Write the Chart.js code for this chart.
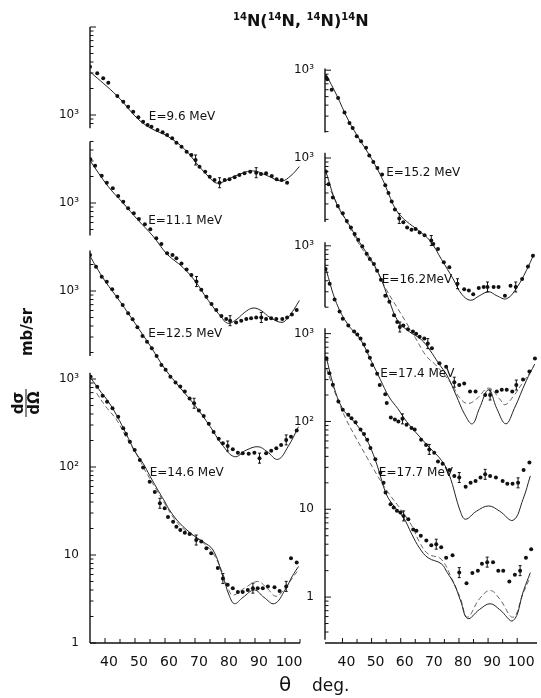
<!DOCTYPE html>
<html>
<head>
<meta charset="utf-8">
<script src="https://cdn.jsdelivr.net/npm/chart.js@4.4.1/dist/chart.umd.min.js"></script>
<style>
  body { margin: 0; background: #fff; width: 541px; height: 698px; position: relative; overflow: hidden;
         font-family: "DejaVu Sans", sans-serif; color: #111; }
  canvas { position: absolute; left: 0; top: 0; }
  .title { position: absolute; left: 233px; top: 11px; font-size: 16px; font-weight: bold; white-space: nowrap; }
  .title span { font-size: 10px; position: relative; top: -6px; }
  .rot { position: absolute; transform: translate(-50%, -50%) rotate(-90deg); white-space: nowrap;
         font-weight: bold; font-size: 15px; }
  .frac { display: flex; flex-direction: column; align-items: center; line-height: 13px; }
  .frac .bar { width: 28px; border-top: 1.5px solid #111; margin: 1px 0; }
  .xlab { position: absolute; top: 672px; white-space: nowrap; }
</style>
</head>
<body>
<canvas id="left" width="541" height="698"></canvas>
<canvas id="right" width="541" height="698"></canvas>
<div class="title"><span>14</span>N(<span>14</span>N, <span>14</span>N)<span>14</span>N</div>
<div class="rot" style="left:26px;top:403px;"><div class="frac"><div>dσ</div><div class="bar"></div><div>dΩ</div></div></div>
<div class="rot" style="left:27px;top:332px;">mb/sr</div>
<div class="xlab" style="left:279px;font-size:20px;">θ</div>
<div class="xlab" style="left:312px;top:675px;font-size:17px;">deg.</div>
<script>
// ---- measured angular distributions (angle in deg, cross-section in mb/sr) ----
// left panel
const e96Angle = [35.0,37.4,39.4,41.1,44.1,46.1,47.7,49.4,51.1,52.7,54.2,55.5,57.5,59.2,60.7,62.4,63.8,65.5,67.2,68.8,70.2,71.5,73.4,74.9,76.5,78.2,79.9,81.5,83.2,84.8,86.5,88.4,90.4,92.0,93.7,95.6,97.2,98.9,100.7];
const e96Sigma = [3540,2978,2612,2328,1644,1416,1242,1091,942,839,770,736,676,636,593,543,484,436,383,351,308,259,227,199,183,170,183,186,196,208,218,227,221,214,218,203,186,183,170];
const e96Err = [20, 25, 32];
const e96FitAngle = [35,44.1,51,55.5,61,66.5,71,74.5,77.5,83,89.2,94,98.8,102,104.8];
const e96Fit = [3100,1640,900,700,570,410,270,200,168,200,232,205,178,205,260];

const e111Angle = [35.1,36.7,38.9,40.6,42.6,44.4,46.1,47.7,49.6,51.3,53.3,55.1,57.1,58.8,60.7,62.5,63.8,65.5,67.2,68.8,70.5,72.1,73.8,75.5,77.1,78.8,80.4,81.7,83.7,85.4,87.1,88.7,90.4,92.1,93.7,95.4,97.1,99.1,100.7,102.3,103.9];
const e111Sigma = [3140,2654,2042,1702,1469,1202,1035,871,764,658,573,502,397,342,268,256,235,206,176,152,128,103,86,71,61,52,48,46,44,46,48,49,50,50,48,49,48,48,50,54,61];
const e111Err = [20, 27, 33];
const e111FitAngle = [35.1,41,46,51,56,60.7,66,70.4,73,76,78.5,80.9,84,86.5,89.3,92,95,99,101,103,104.8];
const e111Fit = [3000,1550,1000,640,420,262,185,125,92,66,52,43,48,57,64,60,50,44,50,62,78];

const e125Angle = [35.0,37.0,38.9,40.6,42.4,44.1,45.9,47.7,49.2,50.8,52.5,54.0,55.6,57.2,58.8,60.2,61.8,63.5,65.1,66.6,68.2,69.7,71.3,72.9,74.6,76.2,77.9,79.3,80.9,82.6,84.3,85.9,87.9,89.8,91.5,93.7,95.4,97.1,98.7,100.4,102.0,103.9];
const e125Sigma = [2566,1888,1455,1276,1045,861,693,558,477,387,308,265,223,182,144,127,106,91,82,72,60,53,44,38,31,25,21,18.6,17.3,15.9,14.5,14.3,14.1,14.5,12.6,14.3,15.3,16.3,17.8,20.3,22,26];
const e125Err = [21, 28, 34, 39];
const e125FitAngle = [35,37,40,45,50,55,60,65,70,75,79,83.2,87,91,94,97.6,101,104.5];
const e125Fit = [2500,1900,1300,760,430,240,130,80,50,29,18,13.1,15.5,17,15,12.2,17,28.7];

const e146Angle = [35.2,37.4,39.2,40.7,42.5,44.4,46.1,47.0,48.3,49.9,51.6,52.7,54.9,56.6,58.3,59.9,61.0,62.7,63.8,65.1,66.6,68.2,70.4,72.1,73.8,75.4,77.6,79.3,80.9,82.6,84.3,85.9,87.6,89.3,90.9,92.6,94.3,96.5,98.2,100.4,102.0,103.9];
const e146Sigma = [1062,818,646,552,464,373,275,237,194,156,120,99,68,52,38.7,34,27,23.9,21,19.2,17.9,17.3,14.8,14.2,11.9,10.5,7.1,5.4,4.6,4.2,3.8,3.8,4.0,4.2,4.2,4.2,4.4,4.3,3.9,4.4,9.2,8.2];
const e146Err = [14, 22, 27, 33, 39];
const e146FitAngle = [35.5,38,41,44,47,50,52.7,54.9,56.6,58.3,60,61.6,64.9,69.3,72.6,76,79.3,81.5,83.2,86,89.8,93,96.5,100,102.5,104.5];
const e146Fit = [1000,760,560,380,240,150,110,80,63,50,40,32,23,16.9,14.2,11.4,5.7,3.4,2.8,3.3,4.0,3.3,2.8,4.0,5.8,7.4];
const e146AltAngle = [37.2,40,43.9,47,51.6,53.3,57.2,60,63,66,70,73,76,79,81,82.6,86.5,90.9,94,97,100,102.5,104.5];
const e146Alt = [690,500,342,220,120,92,55,38,26,20,16,13.5,10.5,6.5,4.2,3.5,4.2,5.0,4.2,3.4,4.2,5.5,6.8];

// right panel
const e152Angle = [34.3,34.8,36.3,38.5,40.7,42.4,43.5,44.9,46.4,48.1,49.2,50.6,52.0,53.6,54.7,55.8,56.9,58.0,59.5,60.9,62.2,63.7,65.1,66.5,68.2,70.5,71.2,72.8,74.8,76.7,79.5,81.8,83.4,84.9,86.8,88.5,89.8,91.9,93.6,95.8,97.7,99.5,101.7,103.7,105.4];
const e152Sigma = [831,789,597,481,330,250,220,177,155,131,107,90,77,65,49,40,32,26,20.5,18.5,16.2,15.2,15.5,14.2,13.2,11.5,10.5,9.2,6.5,5.7,3.7,3.2,3.1,2.8,3.3,3.4,3.4,3.4,3.4,2.7,3.5,3.4,4.2,5.8,7.7];
const e152Err = [18, 25, 30, 36, 41];
const e152FitAngle = [34.3,38,42,46,50,54,56,58,60,62,66,70,74,78,81,84,87,90.2,93,96.4,100,103.1,105.8];
const e152Fit = [900,520,270,160,98,55,38,27,22,19,15,11.5,7,4.2,2.8,2.4,2.7,3.0,2.7,2.5,3.4,5.2,8.1];

const e162Angle = [34.3,35.2,36.7,38.4,40.1,41.5,42.9,44.2,45.4,46.8,48.3,49.4,50.8,51.9,53.2,54.7,56.1,57.7,58.8,59.7,60.9,62.5,64.2,65.3,66.5,68.1,69.3,70.7,73.3,75.6,78.4,80.1,81.8,83.8,85.7,89.0,90.7,93.0,94.7,96.4,98.3,99.7,102.0,104.2,106.1];
const e162Sigma = [700,501,354,284,235,192,162,136,117,99,81,71,62,52,41,27,23,16.2,13.6,11.9,12.4,11.2,10.6,10.0,9.2,8.8,7.7,6.8,4.6,4.2,2.8,2.6,2.7,2.2,2.2,2.0,2.0,2.2,2.3,2.3,2.2,2.6,3.0,3.7,5.2];
const e162Err = [19, 26, 30, 36, 41];
const e162FitAngle = [34.3,38,42,46,50,53,56,59,63,67,70,73,76,79,82,84.6,87,90.2,93,96.1,99,103.1,106];
const e162Fit = [700,300,180,108,68,44,24,14,10.5,8.6,6.5,4.6,3.3,2.0,1.2,0.94,1.4,2.3,1.4,0.94,1.4,2.9,4.5];
const e162AltAngle = [36,40,44,48,51,55,60,65,68.7,72,75,78,80,82.9,86,90.2,94,95.8,99,102,105.4];
const e162Alt = [420,230,130,80,58,32,17,9,5.6,4.4,3.4,2.5,1.9,1.6,1.8,2.4,1.8,1.55,2.0,2.8,4.0];

const e174Angle = [34.2,35.6,37.3,39.0,40.1,42.0,44.0,45.1,46.2,47.4,48.5,49.4,50.2,51.9,52.8,54.7,55.2,56.6,58.0,59.2,60.6,62.0,63.7,64.8,67.0,68.7,69.8,71.5,72.8,74.4,76.7,78.4,80.1,82.3,84.0,85.7,87.4,89.0,90.7,92.7,95.0,96.6,98.4,100.3,102.2,104.2];
const e174Sigma = [546,369,245,179,148,124,106,98,88,75,63,53,44,35,26,20.4,16.2,11.1,10.5,10.0,10.7,9.2,8.4,8.1,6.2,5.4,4.8,4.4,3.5,3.3,2.8,2.4,2.3,1.8,2.0,2.1,2.3,2.5,2.4,2.3,2.1,1.95,1.95,2.0,2.8,3.4];
const e174Err = [20, 26, 32, 37, 43];
const e174FitAngle = [34.2,38,42,46,50,53,56,59,62,66,70,74,76.6,80.6,82.3,86,90.2,94,98.6,102,104.5];
const e174Fit = [560,220,125,88,48,30,19,14,10,7,5,3.6,2.5,0.92,0.77,0.95,1.09,0.95,0.75,1.3,2.4];

const e177Angle = [34.5,35.5,36.7,38.6,40.1,42.0,43.1,44.5,46.2,47.4,48.5,49.6,51.3,53.0,54.1,54.8,56.5,57.6,58.7,59.9,61.0,62.6,64.3,65.4,66.9,68.8,70.5,72.2,73.9,75.6,77.8,80.1,82.6,84.6,86.5,87.9,89.7,91.7,93.5,95.2,97.3,99.2,101.0,103.0,104.8];
const e177Sigma = [525,353,261,169,136,119,109,98,81,72,62,50,37,26,20,15.5,11.4,10.5,9.6,9.2,8.4,7.7,5.9,5.7,5.0,4.4,3.9,4.0,3.7,2.8,3.0,1.9,1.44,1.88,2.0,2.4,2.5,2.5,2.0,2.0,1.5,1.8,2.0,2.8,3.5];
const e177Err = [20, 27, 31, 36, 42];
const e177FitAngle = [34.5,37,40,43,46,49,52,55,58,61,63.8,66.5,69.4,73.9,76,78.4,80.6,83,87,90.7,94,98.6,102.2,104.5];
const e177Fit = [530,250,140,108,82,56,31,15,10.5,8,5.2,3.6,2.8,2.4,1.9,1.4,0.9,0.57,0.72,0.84,0.72,0.54,1.19,1.9];
const e177AltAngle = [34.5,38,41,44,48.5,52.4,56,60,63.8,66.5,69.4,73.9,77.8,80.6,82.9,87,90.7,94,98.6,102,104.5];
const e177Alt = [400,190,110,71,38.5,23,15,10,6.5,4.2,3.1,2.7,1.55,0.95,0.59,0.95,1.19,0.95,0.59,1.1,1.7];

// each curve is lifted by a factor of ten above the one below it
const leftShift = [1000, 100, 10, 1];   // 9.6, 11.1, 12.5, 14.6 MeV
const rightShift = [1000, 100, 10, 1];  // 15.2, 16.2, 17.4, 17.7 MeV
const ERR = 1.14;                       // typical error bar, as a factor

const INK = '#111';
const FONT = '"DejaVu Sans", sans-serif';

function pts(xs, ys, k) { return xs.map((a, i) => ({ x: a, y: ys[i] * k })); }

function dots(xs, ys, k, err) {
  return { data: pts(xs, ys, k), errIdx: err, showLine: false, pointRadius: 2, pointBackgroundColor: INK,
           pointBorderWidth: 0 };
}
function fit(xs, ys, k, dashed) {
  return { data: pts(xs, ys, k), showLine: true, pointRadius: 0, borderColor: dashed ? '#555' : '#222',
           borderWidth: dashed ? 0.9 : 1, borderDash: dashed ? [5, 3] : [], tension: 0.4 };
}

// decade labels: every offset curve gets its own 10^3 mark
function yLabel(v) {
  const e = Math.log10(v);
  if (Math.abs(e - Math.round(e)) > 1e-6) return '';
  const n = Math.round(e);
  if (n === 0) return '1';
  if (n === 1) return '10';
  if (n === 2) return '10²';
  if (n >= 3 && n <= 6) return '10³';
  return '';
}

// axis pieces, inward ticks, error bars and energy tags
const frame = {
  id: 'frame',
  afterDatasetsDraw(chart, args, opts) {
    const { ctx, chartArea: a, scales: { x, y } } = chart;
    const seg = (x1, y1, x2, y2) => { ctx.beginPath(); ctx.moveTo(x1, y1); ctx.lineTo(x2, y2); ctx.stroke(); };
    ctx.save();
    ctx.strokeStyle = INK;
    ctx.lineWidth = 1.4;
    seg(a.left, a.bottom, a.right, a.bottom);
    ctx.lineWidth = 1;
    x.ticks.forEach((t) => {
      if (Math.abs(t.value % 5) > 1e-6) return;
      const px = x.getPixelForValue(t.value);
      if (px < a.left + 3) return;
      seg(px, a.bottom, px, a.bottom - (t.value % 10 === 0 ? 5 : 4));
    });
    opts.spans.forEach(([lo, hi]) => {
      ctx.lineWidth = 1.4;
      seg(a.left, y.getPixelForValue(10 ** hi), a.left, y.getPixelForValue(10 ** lo));
      ctx.lineWidth = 1;
      y.ticks.forEach((t) => {
        const lg = Math.log10(t.value);
        if (lg < lo - 1e-6 || lg > hi + 1e-6) return;
        const m = t.value / 10 ** Math.floor(lg + 1e-9);
        if (Math.abs(m - Math.round(m)) > 1e-6) return;
        const py = y.getPixelForValue(t.value);
        seg(a.left, py, a.left + (Math.round(m) === 1 ? 6 : 3.5), py);
      });
    });
    ctx.lineWidth = 1;
    chart.data.datasets.forEach((ds, i) => {
      if (!ds.errIdx) return;
      const els = chart.getDatasetMeta(i).data;
      ds.errIdx.forEach((j) => {
        const v = ds.data[j].y, px = els[j].x;
        const t = y.getPixelForValue(v * ERR), b = y.getPixelForValue(v / ERR);
        seg(px, t, px, b);
        seg(px - 1.5, t, px + 1.5, t);
        seg(px - 1.5, b, px + 1.5, b);
      });
    });
    ctx.fillStyle = INK;
    ctx.font = '12px ' + FONT;
    ctx.textBaseline = 'middle';
    opts.tags.forEach((t) => ctx.fillText(t.text, x.getPixelForValue(t.angle), y.getPixelForValue(t.value)));
    ctx.restore();
  },
};

function panel(id, datasets, pad, xr, yr, spans, tags) {
  return new Chart(document.getElementById(id), {
    type: 'scatter',
    data: { datasets },
    options: {
      responsive: false,
      animation: false,
      layout: { padding: pad },
      plugins: { legend: { display: false }, tooltip: { enabled: false }, frame: { spans, tags } },
      scales: {
        x: {
          type: 'linear', min: xr[0], max: xr[1],
          grid: { display: false }, border: { display: false },
          afterFit: (s) => { s.height = 30; },
          ticks: {
            stepSize: 5, autoSkip: false, maxRotation: 0, padding: 3, labelOffset: 4,
            color: INK, font: { family: FONT, size: 14 },
            callback: (v) => (v % 10 === 0 && v >= 40 && v <= 100 ? String(v) : ''),
          },
        },
        y: {
          type: 'logarithmic', min: yr[0], max: yr[1],
          grid: { display: false }, border: { display: false },
          afterFit: (s) => { s.width = 40; },
          ticks: { autoSkip: false, padding: 3, color: INK, font: { family: FONT, size: 12 }, callback: yLabel },
        },
      },
    },
    plugins: [frame],
  });
}

panel('left', [
  dots(e96Angle, e96Sigma, leftShift[0], e96Err), fit(e96FitAngle, e96Fit, leftShift[0]),
  dots(e111Angle, e111Sigma, leftShift[1], e111Err), fit(e111FitAngle, e111Fit, leftShift[1]),
  dots(e125Angle, e125Sigma, leftShift[2], e125Err), fit(e125FitAngle, e125Fit, leftShift[2]),
  dots(e146Angle, e146Sigma, leftShift[3], e146Err), fit(e146FitAngle, e146Fit, leftShift[3]),
  fit(e146AltAngle, e146Alt, leftShift[3], true),
], { left: 50, right: 241, top: 27, bottom: 25 }, [35, 105], [1, 1e7],
  [[5.85, 7.0], [4.63, 5.70], [3.26, 4.46], [0, 3.07]],
  [
    { text: 'E=9.6 MeV', angle: 54.6, value: 9.5e5 },
    { text: 'E=11.1 MeV', angle: 54.4, value: 6.24e4 },
    { text: 'E=12.5 MeV', angle: 54.4, value: 3245 },
    { text: 'E=14.6 MeV', angle: 54.9, value: 86 },
  ]);

panel('right', [
  dots(e152Angle, e152Sigma, rightShift[0], e152Err), fit(e152FitAngle, e152Fit, rightShift[0]),
  dots(e162Angle, e162Sigma, rightShift[1], e162Err), fit(e162FitAngle, e162Fit, rightShift[1]),
  fit(e162AltAngle, e162Alt, rightShift[1], true),
  dots(e174Angle, e174Sigma, rightShift[2], e174Err), fit(e174FitAngle, e174Fit, rightShift[2]),
  dots(e177Angle, e177Sigma, rightShift[3], e177Err), fit(e177FitAngle, e177Fit, rightShift[3]),
  fit(e177AltAngle, e177Alt, rightShift[3], true),
], { left: 285, right: 0, top: 68, bottom: 25 }, [34, 106.8], [10 ** -0.487, 10 ** 6.025],
  [[5.29, 6.02], [4.27, 5.06], [3.30, 4.04], [-0.487, 3.06]],
  [
    { text: 'E=15.2 MeV', angle: 55.0, value: 6.8e4 },
    { text: 'E=16.2MeV', angle: 53.5, value: 4130 },
    { text: 'E=17.4 MeV', angle: 53.0, value: 344 },
    { text: 'E=17.7 MeV', angle: 52.5, value: 26 },
  ]);
</script>
</body>
</html>
